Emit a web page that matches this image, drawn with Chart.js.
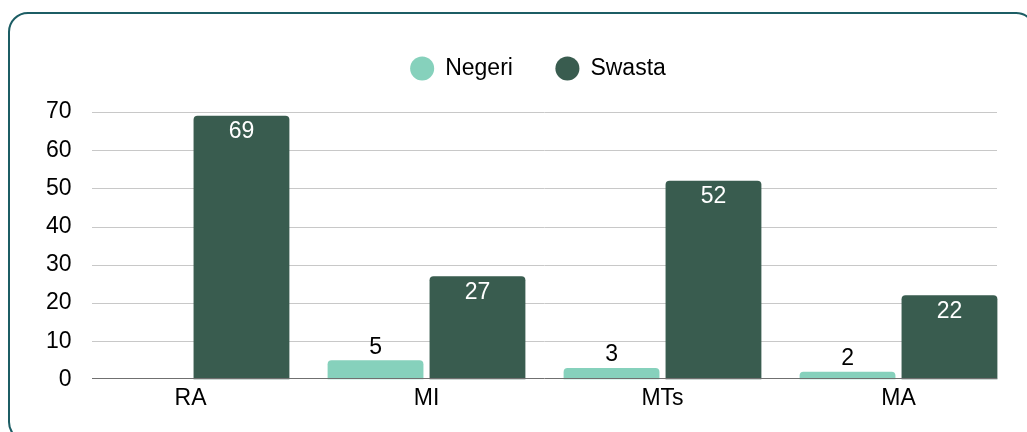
<!DOCTYPE html>
<html>
<head>
<meta charset="utf-8">
<script src="https://cdn.jsdelivr.net/npm/chart.js@4.4.1/dist/chart.umd.min.js"></script>
<style>
    html, body { margin: 0; padding: 0; background: #fff; overflow: hidden; }
    #wrap { position: relative; width: 1027px; height: 432px; overflow: hidden; }
    .card {
        position: absolute; left: 8px; top: 12px; width: 1028px; height: 430px;
        border: 2px solid #1c5d64; border-radius: 20px; box-sizing: border-box;
    }
    #chart { position: absolute; left: 0; top: 0; }
</style>
</head>
<body>
<div id="wrap">
    <div class="card"></div>
    <canvas id="chart" width="1027" height="432"></canvas>
</div>
<script>
// Data
const categories = ['RA', 'MI', 'MTs', 'MA'];
const negeri = [0, 5, 3, 2];
const swasta = [69, 27, 52, 22];
const yMax = 70;
const yStep = 10;

const FONT = "'Liberation Sans', Arial, sans-serif";

// Gridlines only span the bars, so draw them from the bar elements
const gridPlugin = {
    id: 'gridSpan',
    afterLayout(chart) {
        // legend is centred over the plot, not the whole canvas
        chart.legend.left += 60;
    },
    beforeDatasetsDraw(chart) {
        const ctx = chart.ctx;
        const first = chart.getDatasetMeta(0).data[0];
        const lastMeta = chart.getDatasetMeta(1).data;
        const last = lastMeta[lastMeta.length - 1];
        const x0 = Math.round(first.x - first.width / 2);
        const x1 = Math.round(last.x + last.width / 2);
        const y = chart.scales.y;
        ctx.save();
        ctx.lineWidth = 1;
        y.ticks.forEach(t => {
            if (t.value === 0) return;
            const py = Math.round(y.getPixelForValue(t.value)) + 0.5;
            ctx.strokeStyle = '#c8c8c8';
            ctx.beginPath();
            ctx.moveTo(x0, py);
            ctx.lineTo(x1, py);
            ctx.stroke();
        });
        ctx.restore();
    },
    afterDatasetsDraw(chart) {
        const ctx = chart.ctx;
        const first = chart.getDatasetMeta(0).data[0];
        const lastMeta = chart.getDatasetMeta(1).data;
        const last = lastMeta[lastMeta.length - 1];
        const x0 = Math.round(first.x - first.width / 2);
        const x1 = Math.round(last.x + last.width / 2);
        const py = Math.round(chart.scales.y.getPixelForValue(0)) - 0.5;
        ctx.save();
        ctx.strokeStyle = '#707070';
        ctx.lineWidth = 1;
        ctx.beginPath();
        ctx.moveTo(x0, py);
        ctx.lineTo(x1, py);
        ctx.stroke();

        // value labels
        ctx.font = `23px ${FONT}`;
        ctx.textAlign = 'center';
        ctx.textBaseline = 'middle';
        chart.data.datasets.forEach((ds, i) => {
            chart.getDatasetMeta(i).data.forEach((bar, j) => {
                const v = ds.data[j];
                if (!v) return;
                if (i === 1) {
                    ctx.fillStyle = '#ffffff';
                    ctx.fillText(String(v), bar.x, bar.y + 16);
                } else {
                    ctx.fillStyle = '#000000';
                    ctx.fillText(String(v), bar.x, bar.y - 13);
                }
            });
        });
        ctx.restore();
    }
};

new Chart(document.getElementById('chart').getContext('2d'), {
    type: 'bar',
    data: {
        labels: categories,
        datasets: [
            {
                label: 'Negeri',
                data: negeri,
                backgroundColor: '#86d1bc',
                borderRadius: 4,
                categoryPercentage: 0.864,
                barPercentage: 0.94
            },
            {
                label: 'Swasta',
                data: swasta,
                backgroundColor: '#395c4f',
                borderRadius: 4,
                categoryPercentage: 0.864,
                barPercentage: 0.94
            }
        ]
    },
    options: {
        responsive: false,
        animation: false,
        layout: { padding: { left: 0, right: 10.5, top: 14, bottom: 15 } },
        plugins: {
            legend: {
                display: true,
                position: 'top',
                align: 'center',
                labels: {
                    usePointStyle: true,
                    pointStyle: 'circle',
                    boxHeight: 17,
                    padding: 43,
                    color: '#000',
                    font: { family: FONT, size: 23 }
                }
            },
            // empty spacer between legend and plot
            title: {
                display: true,
                text: '',
                weight: 500,
                font: { size: 1, lineHeight: 1 },
                padding: { top: 0, bottom: 21 }
            },
            tooltip: { enabled: false }
        },
        scales: {
            x: {
                grid: { display: false, drawTicks: false },
                border: { display: false },
                ticks: { color: '#000', padding: 5, font: { family: FONT, size: 23 } }
            },
            y: {
                min: 0,
                max: yMax,
                grid: { display: false, drawTicks: false },
                border: { display: false },
                afterFit(scale) { scale.width = 72.5; },
                ticks: { stepSize: yStep, color: '#000', padding: 1, font: { family: FONT, size: 23 } }
            }
        }
    },
    plugins: [gridPlugin]
});
</script>
</body>
</html>
